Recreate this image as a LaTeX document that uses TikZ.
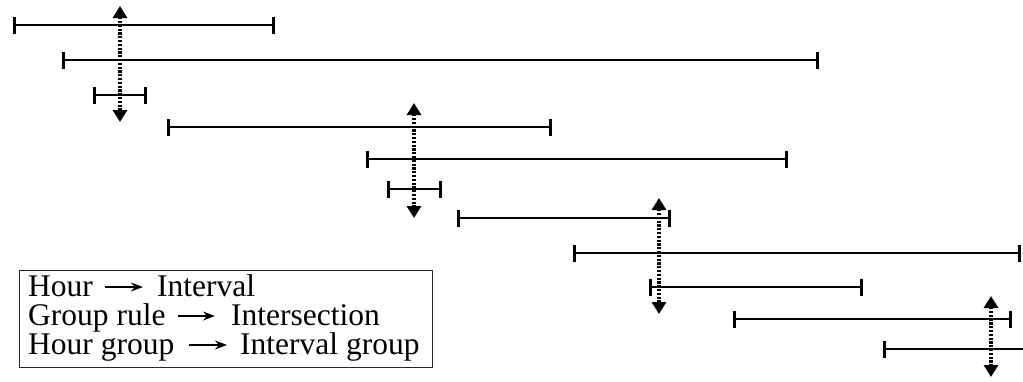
\documentclass[tikz,border=0pt]{standalone}
\usepackage{fontspec}
\newfontfamily\legendfont{Liberation Serif}
\usetikzlibrary{arrows.meta,calc}
\begin{document}
\begin{tikzpicture}[x=1pt,y=-1pt,
  interval/.style={line width=1.8pt,
    {Bar[width=17pt,line width=2.6pt]}-{Bar[width=17pt,line width=2.6pt]}},
  openright/.style={line width=1.8pt,{Bar[width=17pt,line width=2.6pt]}-},
  cut/.style={line width=3.5pt,dash pattern=on 2.2pt off 1.6pt,
    {Triangle[width=14pt,length=12pt]}-{Triangle[width=14pt,length=12pt]}},
  legtext/.style={anchor=base west,inner sep=0pt,font=\legendfont\fontsize{31.5}{30}\selectfont},
  legarrow/.style={line width=1.4pt,-{Stealth[length=12pt,width=9pt]}}]
\useasboundingbox (0,0) rectangle (1023,381);

% intervals
\draw[interval] (13,25) -- (275,25);
\draw[interval] (62,60) -- (819,60);
\draw[interval] (93,95) -- (147,95);
\draw[interval] (167,127) -- (552,127);
\draw[interval] (366,159) -- (788,159);
\draw[interval] (387,189) -- (442,189);
\draw[interval] (457,218) -- (671,218);
\draw[interval] (573,253) -- (1021,253);
\draw[interval] (649,287) -- (863,287);
\draw[interval] (733,319) -- (1012,319);
\draw[openright] (883,349) -- (1023,349);

% intersection markers
\draw[cut] (120,6) -- (120,122);
\draw[cut] (414,103) -- (414,218);
\draw[cut] (659,198) -- (659,314);
\draw[cut] (991,296) -- (991,377);

% legend
\draw[line width=1pt,black!85] (19,270) rectangle (432,367);
\node[legtext] (h1) at (28,296) {Hour};
\node[legtext] (i1) at (157,296) {Interval};
\node[legtext] (h2) at (28,325) {Group rule};
\node[legtext] (i2) at (231,325) {Intersection};
\node[legtext] (h3) at (28,354) {Hour group};
\node[legtext] (i3) at (240,354) {Interval group};
\draw[legarrow] ([xshift=-52pt,yshift=9pt]i1.base west) -- ([xshift=-14pt,yshift=9pt]i1.base west);
\draw[legarrow] ([xshift=-53pt,yshift=9pt]i2.base west) -- ([xshift=-16pt,yshift=9pt]i2.base west);
\draw[legarrow] ([xshift=-51pt,yshift=9pt]i3.base west) -- ([xshift=-13pt,yshift=9pt]i3.base west);
\end{tikzpicture}
\end{document}
